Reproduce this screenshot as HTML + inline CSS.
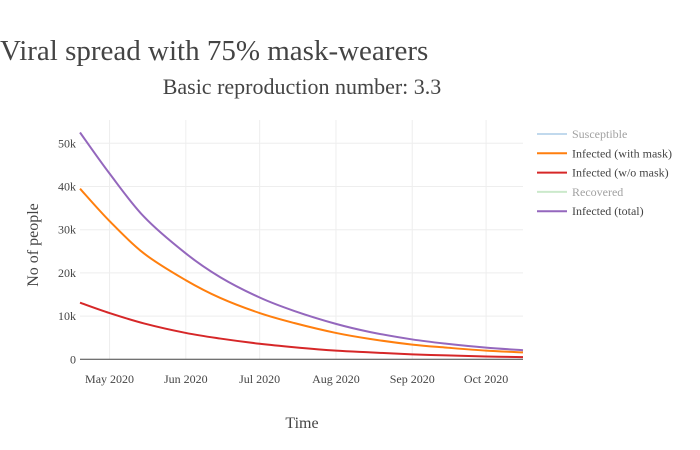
<!DOCTYPE html>
<html><head><meta charset="utf-8">
<style>
body{margin:0;background:#fff;}
svg{font-family:"Liberation Serif",serif;display:block;}
</style></head>
<body>
<svg id="chart" width="700" height="450">
<rect width="700" height="450" fill="#fff"/>
<text x="0" y="60" font-size="29" fill="#444">Viral spread with 75% mask-wearers</text>
<text x="302" y="94" font-size="22" fill="#444" text-anchor="middle">Basic reproduction number: 3.3</text>
<g id="grid"></g>
<g id="axes"></g>
<g id="series"></g>
<text x="302" y="428" font-size="16" fill="#444" text-anchor="middle">Time</text>
<text transform="translate(38,245) rotate(-90)" font-size="16" fill="#444" text-anchor="middle">No of people</text>
<g id="legend"></g>
</svg>
<script>
const dates=["2020-04-19","2020-05-01","2020-05-15","2020-06-01","2020-06-15","2020-07-01","2020-07-15","2020-08-01","2020-08-15","2020-09-01","2020-09-15","2020-10-01","2020-10-16"];
const totalVals=[52500,43000,33000,24500,19000,14300,11200,8200,6300,4600,3600,2700,2100];
const maskVals=[39500,32000,24500,18300,14200,10700,8400,6100,4700,3400,2700,2000,1600];
const noMaskVals=[13100,10700,8300,6100,4800,3600,2800,2000,1600,1150,900,650,500];
const yTicks=[0,10000,20000,30000,40000,50000];
const yTickLabels=["0","10k","20k","30k","40k","50k"];
const xTicks=["2020-05-01","2020-06-01","2020-07-01","2020-08-01","2020-09-01","2020-10-01"];
const xTickLabels=["May 2020","Jun 2020","Jul 2020","Aug 2020","Sep 2020","Oct 2020"];
const legendNames=["Susceptible","Infected (with mask)","Infected (w/o mask)","Recovered","Infected (total)"];
const legendColors=["#84b4dc","#ff7f0e","#d62728","#98d598","#9467bd"];
const legendHidden=[true,false,false,true,false];

const NS="http://www.w3.org/2000/svg";
const X0=80,X1=523,Y0=359.3,Y50=143.3;
const t0=Date.parse("2020-04-19"),t1=Date.parse("2020-10-16");
function xs(d){return X0+(Date.parse(d)-t0)/(t1-t0)*(X1-X0);}
function ys(v){return Y0-(v/50000)*(Y0-Y50);}
function mk(tag,attrs,parent){const e=document.createElementNS(NS,tag);for(const k in attrs)e.setAttribute(k,attrs[k]);parent.appendChild(e);return e;}
const grid=document.getElementById("grid"),axes=document.getElementById("axes"),series=document.getElementById("series"),legend=document.getElementById("legend");
yTicks.forEach((v,i)=>{
  if(v>0){const l=mk("line",{x1:X0,x2:X1,y1:ys(v),y2:ys(v),stroke:"#eee","stroke-width":1},grid);
  
  }
  const t=mk("text",{x:X0-4,y:ys(v)+4,"font-size":12,fill:"#444","text-anchor":"end"},axes);
  t.textContent=yTickLabels[i];
  
  
});
xTicks.forEach((d,i)=>{
  const l=mk("line",{x1:xs(d),x2:xs(d),y1:120,y2:Y0,stroke:"#eee","stroke-width":1},grid);
  
  
  const t=mk("text",{x:xs(d),y:383,"font-size":12,fill:"#444","text-anchor":"middle"},axes);
  t.textContent=xTickLabels[i];
  
  
});
const zl=mk("line",{x1:X0,x2:X1,y1:Y0,y2:Y0,stroke:"#444","stroke-width":1},axes);


function pathFor(vals){
  const p=vals.map((v,i)=>[xs(dates[i]),ys(v)]);
  let d="M"+p[0][0]+","+p[0][1];
  for(let i=0;i<p.length-1;i++){
    const a=p[Math.max(i-1,0)],b=p[i],c=p[i+1],e=p[Math.min(i+2,p.length-1)];
    d+=" C"+(b[0]+(c[0]-a[0])/6)+","+(b[1]+(c[1]-a[1])/6)+" "+(c[0]-(e[0]-b[0])/6)+","+(c[1]-(e[1]-b[1])/6)+" "+c[0]+","+c[1];
  }
  return d;
}
[[maskVals,"#ff7f0e","series-infected-with-mask"],[noMaskVals,"#d62728","series-infected-without-mask"],[totalVals,"#9467bd","series-infected-total"]].forEach(s=>{
  const p=mk("path",{d:pathFor(s[0]),fill:"none",stroke:s[1],"stroke-width":2},series);
  
  
});
legendNames.forEach((n,i)=>{
  const y=134+i*19.3;
  const g=mk("g",{opacity:legendHidden[i]?0.5:1},legend);
  
  
  mk("line",{x1:537,x2:567,y1:y,y2:y,stroke:legendColors[i],"stroke-width":2},g);
  const t=mk("text",{x:572,y:y+4,"font-size":12,fill:"#444"},g);
  t.textContent=n;
});
</script>
</body></html>
